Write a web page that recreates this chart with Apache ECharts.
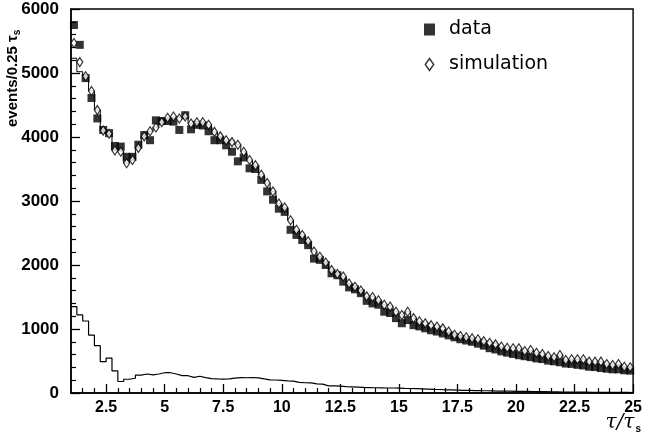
<!DOCTYPE html>
<html>
<head>
<meta charset="utf-8">
<script src="https://cdn.jsdelivr.net/npm/echarts@6/dist/echarts.min.js"></script>
<style>html,body{margin:0;padding:0;background:#fff}#c{width:645px;height:438px}</style>
</head>
<body>
<div id="c"></div>
<script>
// ---- data (events per 0.25 tau_s bin, bins from 1 to 25) ----
const binStart = 1;
const binWidth = 0.25;
const dataCounts = [
 5750,5440,4920,4610,4290,4110,4060,3860,3850,3690,3690,3880,4030,3950,4260,4250,
 4250,4240,4110,4340,4120,4190,4180,4090,3950,3950,3870,3770,3620,3680,3510,3500,
 3330,3150,3020,2880,2830,2550,2470,2390,2310,2100,2080,2000,1870,1840,1740,1650,
 1620,1560,1440,1400,1380,1270,1250,1170,1090,1140,1060,1040,1010,980,960,930,
 900,870,840,820,800,770,740,700,680,650,630,610,590,575,560,540,
 530,505,495,480,460,455,440,430,410,405,390,380,370,370,355,350
];
const simCounts = [
 5470,5170,4950,4720,4420,4100,4050,3790,3770,3590,3640,3830,4010,4090,4150,4230,
 4300,4320,4290,4320,4210,4230,4230,4190,4080,4010,3950,3920,3880,3770,3640,3560,
 3410,3280,3150,2960,2900,2700,2550,2470,2370,2210,2130,2040,1920,1860,1820,1710,
 1660,1600,1510,1500,1450,1380,1350,1270,1220,1270,1170,1120,1090,1060,1040,1010,
 960,910,890,870,855,840,810,786,760,725,708,698,698,656,672,630,
 610,578,557,594,516,526,526,526,490,490,490,453,438,453,411,401
];
// step histogram drawn through the points (first two bins differ from the markers)
const histFirstBins = [5230, 5020];
const bkgCounts = [
 1350,1220,1125,905,740,490,545,345,180,215,230,280,297,282,297,317,
 317,297,272,270,245,262,240,225,220,218,222,232,240,238,242,236,
 220,205,203,198,188,185,165,160,158,142,138,112,110,108,100,96,
 92,88,85,82,80,78,78,75,72,70,68,66,62,58,55,50,
 48,46,42,40,38,36,35,33,30,30,28,26,25,24,22,20,
 20,18,17,16,15,14,14,13,12,12,11,10,10,9,9,8
];
const xTickLabels = [2.5, 5, 7.5, 10, 12.5, 15, 17.5, 20, 22.5, 25];
const yTickLabels = [0, 1000, 2000, 3000, 4000, 5000, 6000];

// ---- build ----
const nBins = dataCounts.length;
const centers = [], edges = [];
for (let i = 0; i < nBins; i++) { centers.push(binStart + binWidth * (i + 0.5)); edges.push(binStart + binWidth * i); }
const xMax = binStart + binWidth * nBins;
const stepData = vals => { const d = vals.map((v, i) => [edges[i], v]); d.push([xMax, vals[vals.length - 1]]); return d; };
const histVals = simCounts.map((v, i) => i < histFirstBins.length ? histFirstBins[i] : v);
const minorX = [];
for (let v = binStart + 0.5; v < xMax; v += 0.5) { if (Math.abs(v / 2.5 - Math.round(v / 2.5)) > 1e-6) minorX.push(v); }

const FONT = "'Liberation Sans', Arial, sans-serif";
const chart = echarts.init(document.getElementById('c'), null, { renderer: 'canvas' });
chart.setOption({
  animation: false,
  backgroundColor: '#fff',
  grid: { left: 71, right: 8, top: 9, bottom: 45, show: true, borderColor: '#000', borderWidth: 1.4, backgroundColor: 'transparent' },
  legend: {
    orient: 'vertical', left: 419, top: 15, itemGap: 16, itemWidth: 11, itemHeight: 12,
    textStyle: { fontFamily: "'DejaVu Sans', sans-serif", fontSize: 19, color: '#000', padding: [0, 0, 0, 9] },
    data: [
      { name: 'data', icon: 'rect', itemStyle: { color: '#000' } },
      { name: 'simulation', icon: 'path://M0,5 L3.5,0 L7,5 L3.5,10 Z', itemStyle: { color: '#fff', borderColor: '#000', borderWidth: 1.4 } }
    ]
  },
  xAxis: [
    {
      type: 'value', min: binStart, max: xMax, position: 'bottom',
      axisLine: { onZero: false, lineStyle: { color: '#000', width: 1.5 } },
      axisTick: { inside: true, length: 9, customValues: xTickLabels, lineStyle: { color: '#000', width: 1.3 } },
      axisLabel: { customValues: xTickLabels, color: '#000', fontFamily: FONT, fontWeight: 'bold', fontSize: 16, margin: 7,
        formatter: v => String(v) },
      splitLine: { show: false }
    },
    {
      type: 'value', min: binStart, max: xMax, position: 'bottom', offset: 0,
      axisLine: { show: false, onZero: false },
      axisTick: { inside: true, length: 5, customValues: minorX, lineStyle: { color: '#000', width: 1.2 } },
      axisLabel: { show: false },
      splitLine: { show: false }
    }
  ],
  yAxis: {
    type: 'value', min: 0, max: 6000, interval: 1000,
    axisLine: { show: true, lineStyle: { color: '#000', width: 1.5 } },
    axisTick: { show: true, inside: true, length: 9, lineStyle: { color: '#000', width: 1.3 } },
    minorTick: { show: true, splitNumber: 5, length: 5, lineStyle: { color: '#000', width: 1.2 } },
    axisLabel: { color: '#000', fontFamily: FONT, fontWeight: 'bold', fontSize: 17, margin: 12,
      customValues: yTickLabels, formatter: v => String(v) },
    splitLine: { show: false }
  },
  graphic: [
    {
      type: 'text', x: 13, y: 127, rotation: Math.PI / 2,
      style: {
        text: '{a|events/0.25 τ}{s|s}', textAlign: 'left', textVerticalAlign: 'middle',
        rich: {
          a: { fontFamily: FONT, fontWeight: 'bold', fontSize: 15, fill: '#000' },
          s: { fontFamily: FONT, fontWeight: 'bold', fontSize: 10, fill: '#000', padding: [8, 0, 0, 0] }
        }
      }
    },
    {
      type: 'text', x: 641, y: 423,
      style: {
        text: '{a|τ/τ}{s|s}', textAlign: 'right', textVerticalAlign: 'middle',
        rich: {
          a: { fontFamily: "'DejaVu Serif', serif", fontStyle: 'italic', fontSize: 20, fill: '#000' },
          s: { fontFamily: FONT, fontWeight: 'bold', fontSize: 10, fill: '#000', padding: [12, 0, 0, 1] }
        }
      }
    }
  ],
  series: [
    {
      name: 'background', type: 'line', step: 'end', symbol: 'none', silent: true,
      data: stepData(bkgCounts), lineStyle: { color: '#000', width: 1.2 }, z: 2
    },
    {
      name: 'simhist', type: 'line', step: 'end', symbol: 'none', silent: true,
      data: stepData(histVals), lineStyle: { color: '#000', width: 1 }, z: 2
    },
    {
      name: 'data', type: 'scatter', symbol: 'rect', symbolSize: 8,
      data: dataCounts.map((v, i) => [centers[i], v]),
      itemStyle: { color: '#000' }, z: 3
    },
    {
      name: 'simulation', type: 'scatter', symbol: 'diamond', symbolSize: [6, 9],
      data: simCounts.map((v, i) => [centers[i], v]),
      itemStyle: { color: '#fff', borderColor: '#000', borderWidth: 1.2 }, z: 4
    }
  ]
});
</script>
</body>
</html>
